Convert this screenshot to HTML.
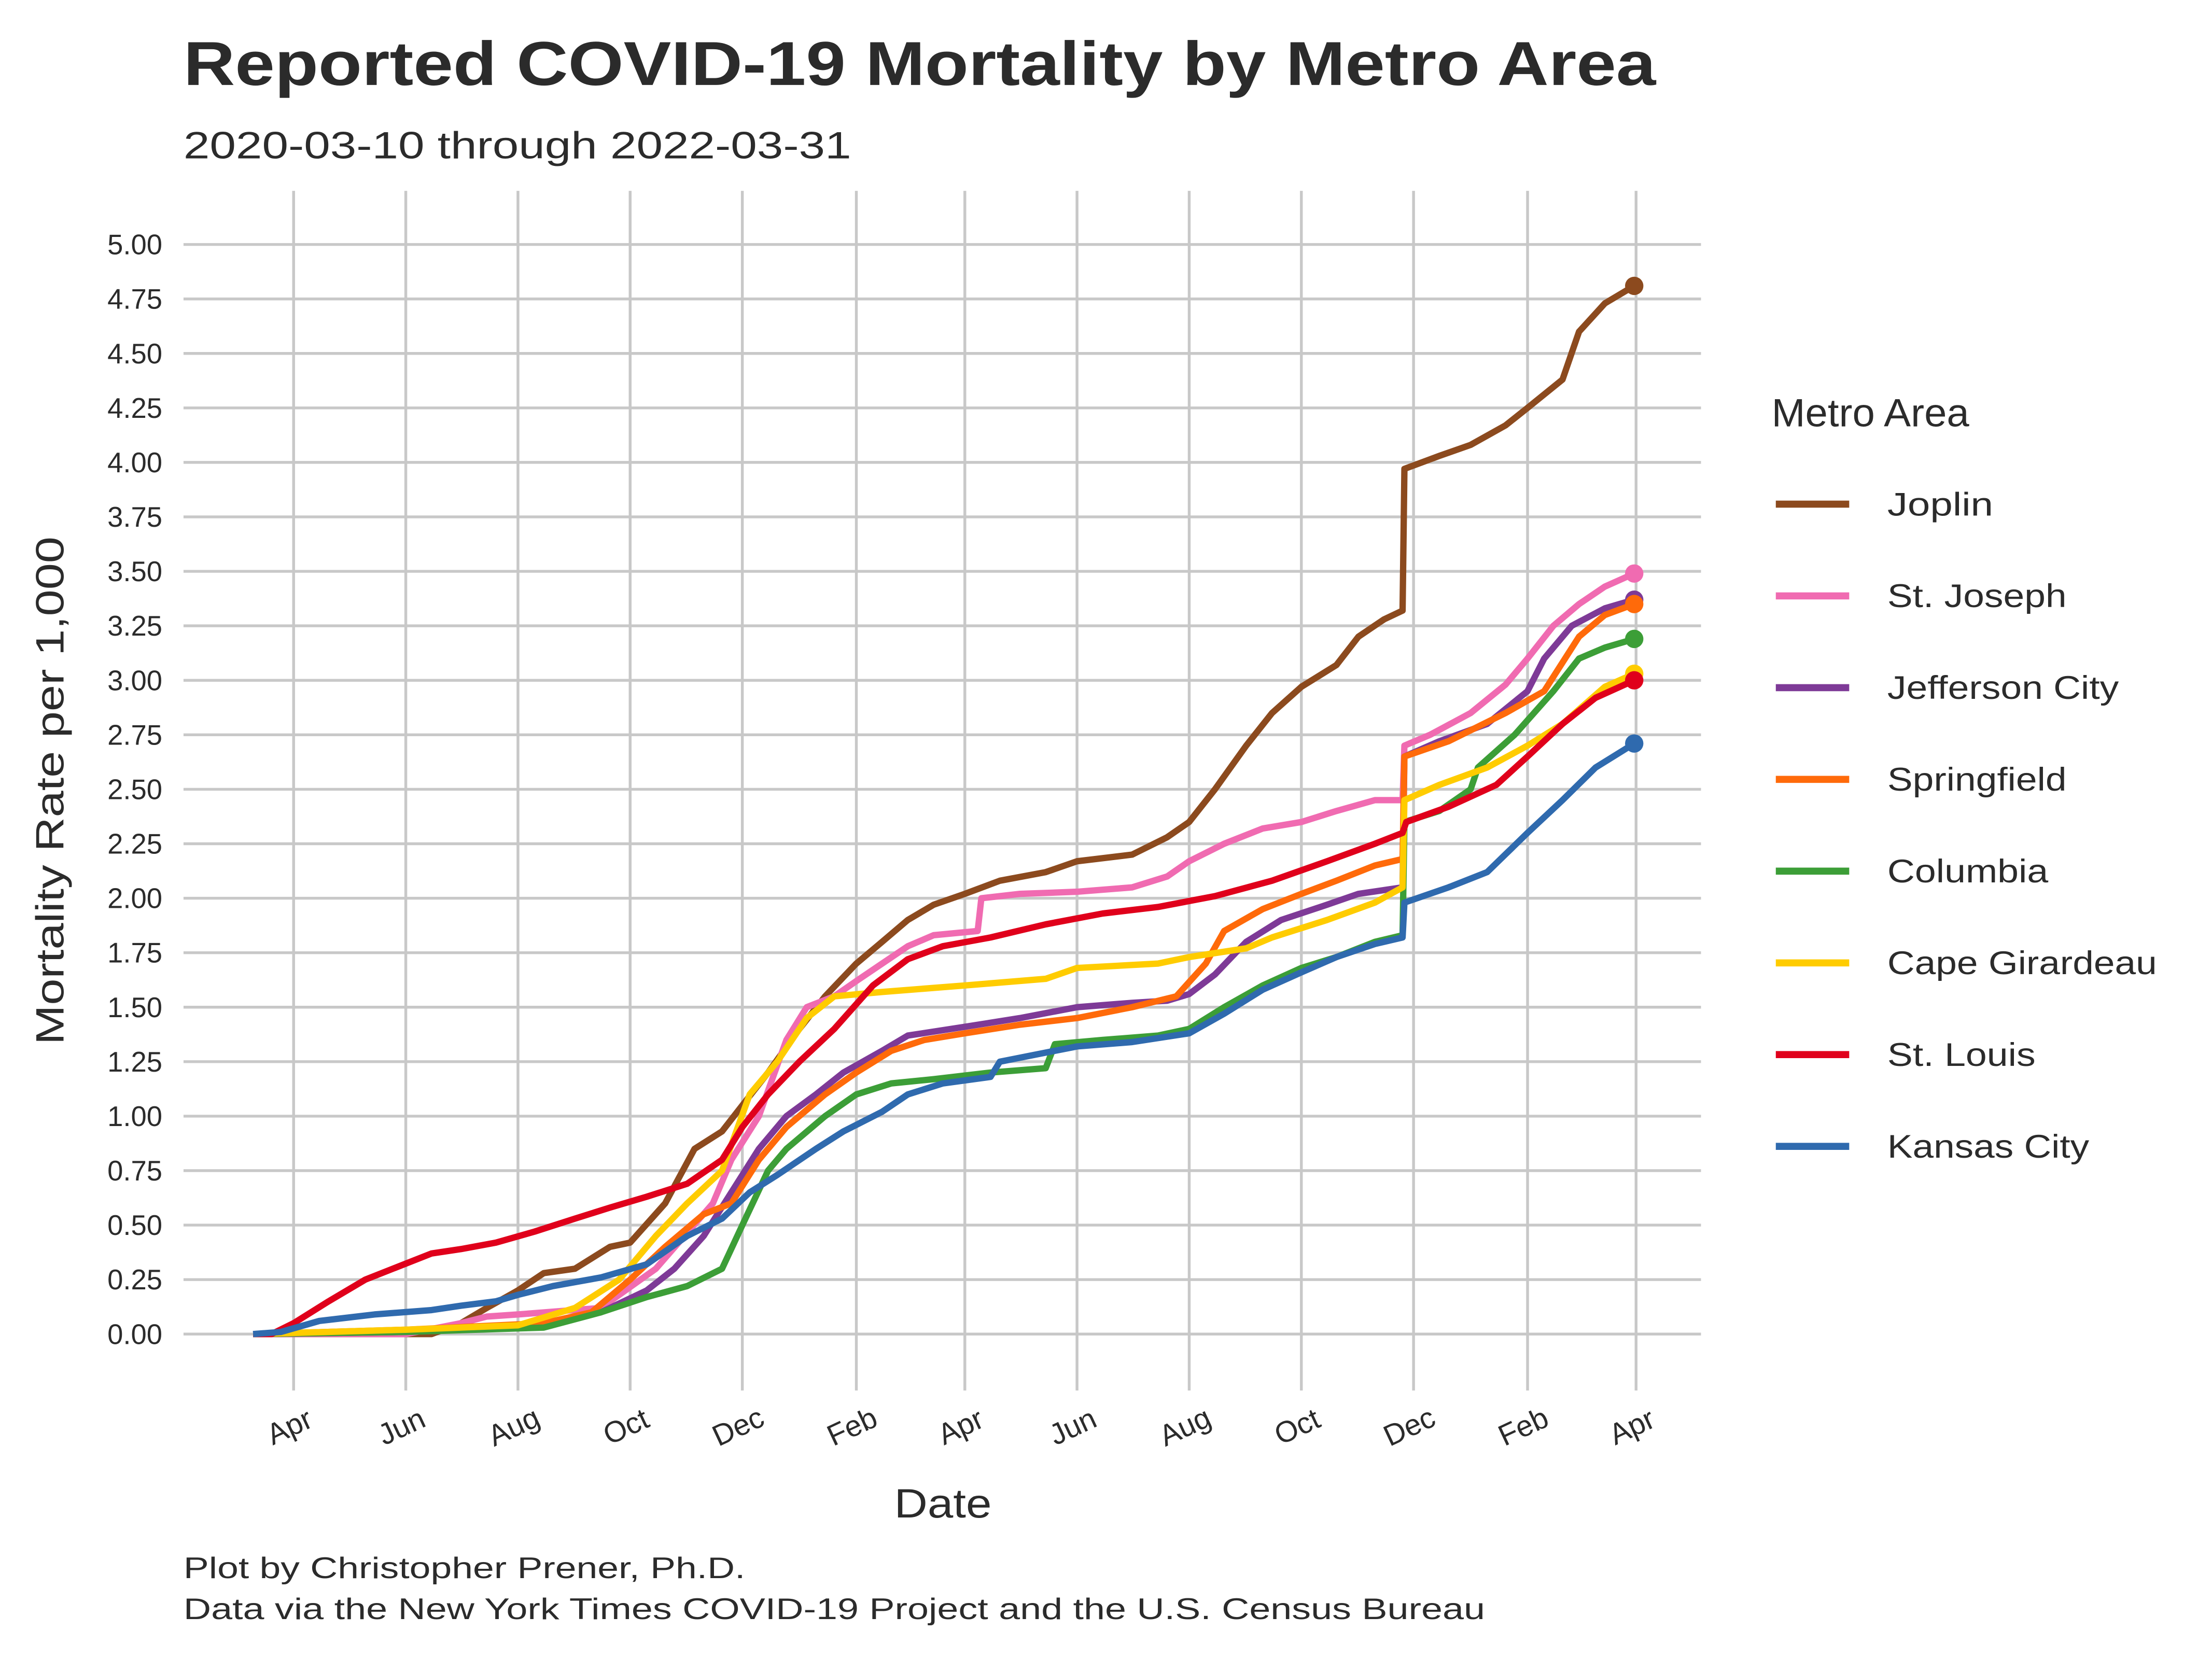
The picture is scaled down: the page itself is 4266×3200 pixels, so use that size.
<!DOCTYPE html>
<html><head><meta charset="utf-8"><style>
html,body{margin:0;padding:0;background:#fff}
svg{display:block}
text{font-family:"Liberation Sans",sans-serif;fill:#2b2b2b}
</style></head><body>
<svg id="chart" width="4266" height="3200" viewBox="0 0 1567 1175" xmlns="http://www.w3.org/2000/svg">
<text x="130" y="60" font-size="44" font-weight="bold" textLength="1043" lengthAdjust="spacingAndGlyphs">Reported COVID-19 Mortality by Metro Area</text>
<text x="130" y="112" font-size="27" textLength="473" lengthAdjust="spacingAndGlyphs">2020-03-10 through 2022-03-31</text>
<g id="grid"></g>
<g id="yticks"></g>
<g id="xticks"></g>
<g id="series"></g>
<text x="668" y="1075" font-size="29" text-anchor="middle" textLength="69" lengthAdjust="spacingAndGlyphs">Date</text>
<text transform="translate(45,560) rotate(-90)" font-size="28" text-anchor="middle" textLength="360" lengthAdjust="spacingAndGlyphs">Mortality Rate per 1,000</text>
<g id="legend">
<text x="1255" y="302" font-size="28" textLength="140" lengthAdjust="spacingAndGlyphs">Metro Area</text>
</g>
<text x="130" y="1118" font-size="21" textLength="398" lengthAdjust="spacingAndGlyphs">Plot by Christopher Prener, Ph.D.</text>
<text x="130" y="1147" font-size="21" textLength="922" lengthAdjust="spacingAndGlyphs">Data via the New York Times COVID-19 Project and the U.S. Census Bureau</text>
</svg>
<script>
const seriesNames = ["Joplin","St. Joseph","Jefferson City","Springfield","Columbia","Cape Girardeau","St. Louis","Kansas City"];
const seriesColors = ["#8C4A1E","#F06BB1","#7E3A97","#FF6A0A","#3C9E37","#FFCC00","#E0001B","#2F6AAE"];
const legendWidths = [75,127,164,127,114,191,105,143];
const yTicks = [0,0.25,0.5,0.75,1,1.25,1.5,1.75,2,2.25,2.5,2.75,3,3.25,3.5,3.75,4,4.25,4.5,4.75,5];
const xTickDates = ["2020-04-01","2020-06-01","2020-08-01","2020-10-01","2020-12-01","2021-02-01","2021-04-01","2021-06-01","2021-08-01","2021-10-01","2021-12-01","2022-02-01","2022-04-01"];
const xTickLabels = ["Apr","Jun","Aug","Oct","Dec","Feb","Apr","Jun","Aug","Oct","Dec","Feb","Apr"];
const joplinDates = ["2020-03-10","2020-06-15","2020-07-01","2020-07-15","2020-08-01","2020-08-15","2020-09-01","2020-09-20","2020-10-01","2020-10-20","2020-11-05","2020-11-20","2020-12-01","2020-12-15","2021-01-01","2021-01-15","2021-02-01","2021-02-15","2021-03-01","2021-03-15","2021-04-01","2021-04-20","2021-05-15","2021-06-01","2021-07-01","2021-07-20","2021-08-01","2021-08-15","2021-09-01","2021-09-15","2021-10-01","2021-10-20","2021-11-01","2021-11-15","2021-11-25","2021-11-26","2021-12-15","2022-01-01","2022-01-20","2022-02-01","2022-02-20","2022-03-01","2022-03-15","2022-03-31"];
const joplinValues = [0,0,0.05,0.12,0.2,0.28,0.3,0.4,0.42,0.6,0.85,0.93,1.05,1.2,1.4,1.55,1.7,1.8,1.9,1.97,2.02,2.08,2.12,2.17,2.2,2.28,2.35,2.5,2.7,2.85,2.97,3.07,3.2,3.28,3.32,3.97,4.03,4.08,4.17,4.25,4.38,4.6,4.73,4.81];
const stJosephDates = ["2020-03-10","2020-06-01","2020-07-01","2020-07-15","2020-08-01","2020-09-15","2020-10-15","2020-11-15","2020-11-25","2020-12-10","2020-12-25","2021-01-05","2021-01-20","2021-02-01","2021-02-15","2021-03-01","2021-03-15","2021-04-08","2021-04-10","2021-05-01","2021-06-01","2021-07-01","2021-07-20","2021-08-01","2021-08-20","2021-09-10","2021-10-01","2021-10-20","2021-11-10","2021-11-25","2021-11-26","2021-12-10","2022-01-01","2022-01-20","2022-02-01","2022-02-15","2022-03-01","2022-03-15","2022-03-31"];
const stJosephValues = [0,0,0.05,0.08,0.09,0.12,0.3,0.6,0.8,1.0,1.35,1.5,1.55,1.62,1.7,1.78,1.83,1.85,2.0,2.02,2.03,2.05,2.1,2.17,2.25,2.32,2.35,2.4,2.45,2.45,2.7,2.75,2.85,2.98,3.1,3.25,3.35,3.43,3.49];
const jeffersonDates = ["2020-03-10","2020-06-01","2020-08-01","2020-09-15","2020-10-10","2020-10-25","2020-11-10","2020-11-25","2020-12-10","2020-12-25","2021-01-10","2021-01-25","2021-02-15","2021-03-01","2021-04-01","2021-05-01","2021-06-01","2021-07-01","2021-07-20","2021-08-01","2021-08-15","2021-09-01","2021-09-20","2021-10-15","2021-11-01","2021-11-25","2021-11-26","2021-12-15","2022-01-10","2022-02-01","2022-02-10","2022-02-25","2022-03-15","2022-03-31"];
const jeffersonValues = [0,0.01,0.03,0.1,0.2,0.3,0.45,0.65,0.85,1.0,1.1,1.2,1.3,1.37,1.41,1.45,1.5,1.52,1.53,1.56,1.65,1.8,1.9,1.97,2.02,2.05,2.65,2.72,2.8,2.95,3.1,3.25,3.33,3.37];
const springfieldDates = ["2020-03-10","2020-06-01","2020-08-15","2020-09-10","2020-10-01","2020-10-20","2020-11-10","2020-11-25","2020-12-10","2020-12-25","2021-01-15","2021-02-01","2021-02-20","2021-03-10","2021-04-01","2021-05-01","2021-06-01","2021-07-01","2021-07-25","2021-08-10","2021-08-20","2021-09-10","2021-10-01","2021-10-20","2021-11-10","2021-11-25","2021-11-26","2021-12-20","2022-01-20","2022-02-10","2022-03-01","2022-03-15","2022-03-31"];
const springfieldValues = [0,0.02,0.05,0.1,0.25,0.4,0.55,0.6,0.8,0.95,1.1,1.2,1.3,1.35,1.38,1.42,1.45,1.5,1.55,1.7,1.85,1.95,2.02,2.08,2.15,2.18,2.65,2.72,2.85,2.95,3.2,3.3,3.35];
const columbiaDates = ["2020-03-10","2020-06-01","2020-08-15","2020-09-15","2020-10-10","2020-11-01","2020-11-20","2020-12-01","2020-12-15","2020-12-25","2021-01-15","2021-02-01","2021-02-20","2021-03-15","2021-04-15","2021-05-15","2021-05-20","2021-06-15","2021-07-15","2021-08-01","2021-08-20","2021-09-10","2021-10-01","2021-10-20","2021-11-10","2021-11-25","2021-11-26","2021-12-15","2022-01-01","2022-01-05","2022-01-25","2022-02-15","2022-03-01","2022-03-15","2022-03-31"];
const columbiaValues = [0,0.01,0.03,0.1,0.17,0.22,0.3,0.5,0.75,0.85,1.0,1.1,1.15,1.17,1.2,1.22,1.33,1.35,1.37,1.4,1.5,1.6,1.68,1.73,1.8,1.83,2.35,2.4,2.5,2.6,2.75,2.95,3.1,3.15,3.19];
const capeDates = ["2020-03-10","2020-06-01","2020-08-01","2020-09-01","2020-09-25","2020-10-15","2020-11-01","2020-11-20","2020-12-05","2020-12-20","2021-01-05","2021-01-20","2021-02-15","2021-04-01","2021-05-15","2021-06-01","2021-07-15","2021-08-01","2021-09-01","2021-09-15","2021-10-15","2021-11-10","2021-11-25","2021-11-26","2021-12-15","2022-01-10","2022-02-01","2022-02-20","2022-03-15","2022-03-31"];
const capeValues = [0,0.02,0.04,0.12,0.25,0.45,0.6,0.75,1.1,1.25,1.45,1.55,1.57,1.6,1.63,1.68,1.7,1.73,1.77,1.82,1.9,1.98,2.05,2.45,2.52,2.6,2.7,2.8,2.97,3.03];
const stLouisDates = ["2020-03-10","2020-03-20","2020-04-01","2020-04-20","2020-05-10","2020-05-25","2020-06-15","2020-07-01","2020-07-20","2020-08-10","2020-09-01","2020-09-20","2020-10-10","2020-11-01","2020-11-20","2020-12-01","2020-12-15","2021-01-01","2021-01-20","2021-02-10","2021-03-01","2021-03-20","2021-04-15","2021-05-15","2021-06-15","2021-07-15","2021-08-15","2021-09-15","2021-10-15","2021-11-10","2021-11-25","2021-11-27","2021-12-20","2022-01-15","2022-02-01","2022-02-20","2022-03-10","2022-03-31"];
const stLouisValues = [0,0,0.05,0.15,0.25,0.3,0.37,0.39,0.42,0.47,0.53,0.58,0.63,0.69,0.8,0.95,1.1,1.25,1.4,1.6,1.72,1.78,1.82,1.88,1.93,1.96,2.01,2.08,2.17,2.25,2.3,2.35,2.42,2.52,2.65,2.8,2.92,3.0];
const kcDates = ["2020-03-10","2020-03-25","2020-04-15","2020-05-15","2020-06-15","2020-07-01","2020-07-20","2020-08-01","2020-08-20","2020-09-15","2020-10-10","2020-11-01","2020-11-20","2020-12-05","2020-12-20","2021-01-10","2021-01-25","2021-02-15","2021-03-01","2021-03-20","2021-04-15","2021-04-20","2021-05-20","2021-06-01","2021-07-01","2021-08-01","2021-08-20","2021-09-10","2021-10-01","2021-10-20","2021-11-10","2021-11-25","2021-11-26","2021-12-20","2022-01-10","2022-02-01","2022-02-20","2022-03-10","2022-03-31"];
const kcValues = [0,0.01,0.06,0.09,0.11,0.13,0.15,0.18,0.22,0.26,0.32,0.45,0.53,0.65,0.73,0.85,0.93,1.02,1.1,1.15,1.18,1.25,1.3,1.32,1.34,1.38,1.47,1.58,1.66,1.73,1.79,1.82,1.98,2.05,2.12,2.3,2.45,2.6,2.71];

const allDates = [joplinDates,stJosephDates,jeffersonDates,springfieldDates,columbiaDates,capeDates,stLouisDates,kcDates];
const allValues = [joplinValues,stJosephValues,jeffersonValues,springfieldValues,columbiaValues,capeValues,stLouisValues,kcValues];

const NS="http://www.w3.org/2000/svg";
const t0=Date.UTC(2020,3,1), t1=Date.UTC(2022,3,1);
function xScale(d){const p=d.split("-").map(Number);const t=Date.UTC(p[0],p[1]-1,p[2]);return 208+(t-t0)/(t1-t0)*951;}
function yScale(v){return 945-v*154.4;}
function mk(tag,attrs,parent){const e=document.createElementNS(NS,tag);for(const k in attrs)e.setAttribute(k,attrs[k]);parent.appendChild(e);return e;}
const grid=document.getElementById("grid"),yt=document.getElementById("yticks"),xt=document.getElementById("xticks"),ser=document.getElementById("series"),leg=document.getElementById("legend");
yTicks.forEach(v=>{
  const l=mk("line",{x1:130,x2:1205,y1:yScale(v),y2:yScale(v),stroke:"#c8c8c8","stroke-width":2},grid);
  
  
  const t=mk("text",{x:115,y:yScale(v)+7,"font-size":20,"text-anchor":"end"},yt);
  t.textContent=v.toFixed(2);
  
  
});
xTickDates.forEach((d,i)=>{
  const x=xScale(d);
  const l=mk("line",{x1:x,x2:x,y1:135,y2:985,stroke:"#c8c8c8","stroke-width":2},grid);
  
  
  const t=mk("text",{transform:`translate(${x},1017) rotate(-25)`,"font-size":21,"text-anchor":"middle"},xt);
  t.textContent=xTickLabels[i];
  
  
});
seriesNames.forEach((n,i)=>{
  const pts=allDates[i].map((d,j)=>xScale(d).toFixed(1)+","+yScale(allValues[i][j]).toFixed(1)).join(" ");
  const p=mk("polyline",{points:pts,fill:"none",stroke:seriesColors[i],"stroke-width":4.5,"stroke-linejoin":"round"},ser);
  
  
  const last=allDates[i].length-1;
  const c=mk("circle",{cx:xScale(allDates[i][last]),cy:yScale(allValues[i][last]),r:6.5,fill:seriesColors[i]},ser);
  
  
  const y=357+65*i;
  const ll=mk("line",{x1:1258,x2:1310,y1:y,y2:y,stroke:seriesColors[i],"stroke-width":5},leg);
  
  
  const lt=mk("text",{x:1337,y:y+8,"font-size":23,textLength:legendWidths[i],lengthAdjust:"spacingAndGlyphs"},leg);
  lt.textContent=n;
  
  
});
</script>
</body></html>
